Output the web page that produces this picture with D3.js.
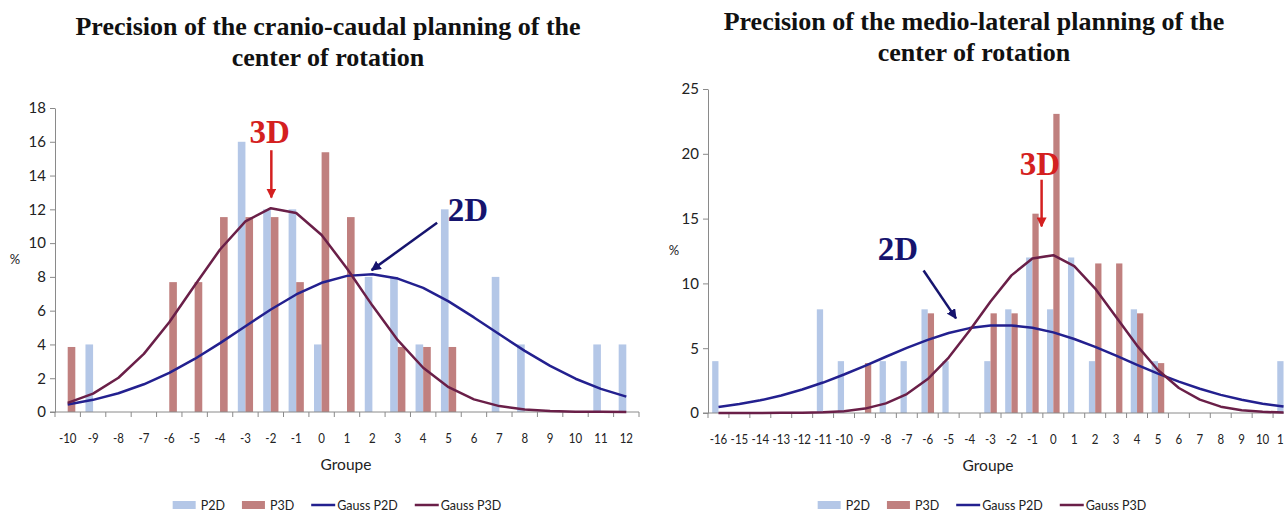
<!DOCTYPE html>
<html>
<head>
<meta charset="utf-8">
<script src="https://cdn.jsdelivr.net/npm/d3@7/dist/d3.min.js"></script>
<style>
  body { margin: 0; background: #fff; }
  svg { display: block; }
  .tick text { font-family: Lato, "Open Sans", sans-serif; fill: #222; }
</style>
</head>
<body>
<script>
// ---- data ----
var leftGroups = [-10, -9, -8, -7, -6, -5, -4, -3, -2, -1, 0, 1, 2, 3, 4, 5, 6, 7, 8, 9, 10, 11, 12];
var leftP2D = [0, 4, 0, 0, 0, 0, 0, 16, 12, 12, 4, 0, 8, 8, 4, 12, 0, 8, 4, 0, 0, 4, 4];
var leftP3D = [3.85, 0, 0, 0, 7.69, 7.69, 11.54, 11.54, 11.54, 7.69, 15.38, 11.54, 0, 3.85, 3.85, 3.85, 0, 0, 0, 0, 0, 0, 0];
var leftGaussP2D = [0.45, 0.72, 1.11, 1.64, 2.32, 3.14, 4.08, 5.08, 6.07, 6.96, 7.65, 8.06, 8.15, 7.90, 7.35, 6.55, 5.60, 4.60, 3.62, 2.73, 1.97, 1.37, 0.91];
var leftGaussP3D = [0.54, 1.09, 2.03, 3.44, 5.31, 7.49, 9.62, 11.29, 12.07, 11.78, 10.48, 8.50, 6.30, 4.25, 2.62, 1.47, 0.75, 0.35, 0.15, 0.06, 0.02, 0.01, 0.00];
var leftYTicks = [0, 2, 4, 6, 8, 10, 12, 14, 16, 18];

var rightGroups = [-16, -15, -14, -13, -12, -11, -10, -9, -8, -7, -6, -5, -4, -3, -2, -1, 0, 1, 2, 3, 4, 5, 6, 7, 8, 9, 10, 11];
var rightP2D = [4, 0, 0, 0, 0, 8, 4, 0, 4, 4, 8, 4, 0, 4, 8, 12, 8, 12, 4, 0, 8, 4, 0, 0, 0, 0, 0, 4];
var rightP3D = [0, 0, 0, 0, 0, 0, 0, 3.85, 0, 0, 7.69, 0, 0, 7.69, 7.69, 15.38, 23.08, 0, 11.54, 11.54, 7.69, 3.85, 0, 0, 0, 0, 0, 0];
var rightGaussP2D = [0.47, 0.69, 0.98, 1.35, 1.81, 2.35, 2.97, 3.64, 4.34, 5.02, 5.64, 6.17, 6.55, 6.75, 6.76, 6.58, 6.22, 5.71, 5.10, 4.42, 3.72, 3.04, 2.42, 1.87, 1.40, 1.02, 0.72, 0.50];
var rightGaussP3D = [0.00, 0.00, 0.00, 0.01, 0.02, 0.06, 0.14, 0.34, 0.74, 1.46, 2.62, 4.28, 6.36, 8.61, 10.62, 11.92, 12.18, 11.33, 9.60, 7.40, 5.20, 3.32, 1.93, 1.03, 0.49, 0.22, 0.09, 0.03];
var rightYTicks = [0, 5, 10, 15, 20, 25];

var legendNames = ["P2D", "P3D", "Gauss P2D", "Gauss P3D"];

var colors = {
  "P2D": "#b4c7e7",
  "P3D": "#c0807f",
  "Gauss P2D": "#23208f",
  "Gauss P3D": "#6a1f48"
};
var axisColor = "#8a8a8a";

var svg = d3.select("body").append("svg")
  .attr("width", 1284)
  .attr("height", 515);

var defs = svg.append("defs");
[["arrowRed", "#d42020"], ["arrowBlue", "#16146e"]].forEach(function(m) {
  defs.append("marker")
    .attr("id", m[0])
    .attr("viewBox", "0 0 10 10")
    .attr("refX", 9).attr("refY", 5)
    .attr("markerWidth", 4).attr("markerHeight", 4)
    .attr("markerUnits", "strokeWidth")
    .attr("orient", "auto")
    .append("path")
    .attr("d", "M0,0 L10,5 L0,10 z")
    .attr("fill", m[1]);
});

function drawChart(cfg) {
  var g = svg.append("g");

  var x = d3.scaleBand().domain(cfg.groups).range([cfg.left, cfg.right]).padding(0);
  var bw = x.bandwidth();
  var xs = d3.scaleBand().domain(["P2D", "P3D"]).range([bw * 0.2, bw * 0.8]);
  // continuous version of the same axis, for the annotations
  var xl = d3.scaleLinear()
    .domain([cfg.groups[0] - 0.5, cfg.groups[cfg.groups.length - 1] + 0.5])
    .range([cfg.left, cfg.right]);
  var y = d3.scaleLinear().domain([0, cfg.yMax]).range([cfg.bottom, cfg.top]);

  // title
  var title = g.append("text")
    .attr("x", cfg.titleX)
    .attr("y", cfg.titleY)
    .attr("text-anchor", "middle")
    .style("font-family", "'Liberation Serif', 'Times New Roman', serif")
    .style("font-weight", "bold")
    .style("font-size", "26px")
    .style("fill", "#111");
  cfg.title.forEach(function(line, i) {
    title.append("tspan")
      .attr("x", cfg.titleX)
      .attr("dy", i == 0 ? 0 : 31)
      .text(line);
  });

  // y axis
  var yAxis = g.append("g")
    .attr("transform", "translate(" + cfg.left + ",0)")
    .call(d3.axisLeft(y).tickValues(cfg.yTicks).tickSize(5).tickSizeOuter(0).tickPadding(4));
  yAxis.selectAll("path, line").attr("stroke", axisColor);
  yAxis.selectAll("text").style("font-size", "15px");

  g.append("text")
    .attr("x", cfg.pctX)
    .attr("y", (cfg.top + cfg.bottom) / 2 + 4)
    .attr("text-anchor", "middle")
    .style("font-family", "Lato, sans-serif")
    .style("font-size", "13px")
    .style("fill", "#222")
    .text("%");

  // bars
  var series = [
    { key: "P2D", values: cfg.p2d },
    { key: "P3D", values: cfg.p3d }
  ];
  series.forEach(function(s) {
    g.append("g").selectAll("rect")
      .data(s.values.map(function(v, i) { return { g: cfg.groups[i], v: v }; })
        .filter(function(d) { return d.v > 0; }))
      .enter().append("rect")
      .attr("x", function(d) { return x(d.g) + xs(s.key); })
      .attr("width", xs.bandwidth())
      .attr("y", function(d) { return y(d.v); })
      .attr("height", function(d) { return y(0) - y(d.v); })
      .attr("fill", colors[s.key]);
  });

  // x axis: line, ticks at category edges, labels in the middle
  g.append("line")
    .attr("x1", cfg.left - 5).attr("x2", cfg.right)
    .attr("y1", cfg.bottom).attr("y2", cfg.bottom)
    .attr("stroke", axisColor);
  g.append("g").selectAll("line")
    .data(cfg.groups.concat(["end"]))
    .enter().append("line")
    .attr("x1", function(d) { return d == "end" ? cfg.right : x(d); })
    .attr("x2", function(d) { return d == "end" ? cfg.right : x(d); })
    .attr("y1", cfg.bottom).attr("y2", cfg.bottom + 5)
    .attr("stroke", axisColor);
  var xAxis = g.append("g")
    .attr("transform", "translate(0," + cfg.bottom + ")")
    .call(d3.axisBottom(x).tickSize(0).tickPadding(21));
  xAxis.select(".domain").remove();
  // narrower glyphs, closer to the original Calibri labels
  xAxis.selectAll("text")
    .style("font-size", "13.5px")
    .attr("transform", "scale(0.85,1)");

  g.append("text")
    .attr("x", cfg.groupeX)
    .attr("y", cfg.bottom + 58)
    .attr("text-anchor", "middle")
    .style("font-family", "Lato, sans-serif")
    .style("font-size", "15.5px")
    .style("fill", "#222")
    .text("Groupe");

  // gauss curves
  var line = d3.line()
    .x(function(d) { return x(d.g) + bw / 2; })
    .y(function(d) { return y(d.v); });
  [["Gauss P2D", cfg.g2d], ["Gauss P3D", cfg.g3d]].forEach(function(s) {
    g.append("path")
      .datum(s[1].map(function(v, i) { return { g: cfg.groups[i], v: v }; }))
      .attr("d", line)
      .attr("fill", "none")
      .attr("stroke", colors[s[0]])
      .attr("stroke-width", 2.5)
      .attr("stroke-linejoin", "round");
  });

  // 2D / 3D annotations
  cfg.notes.forEach(function(n) {
    g.append("text")
      .attr("x", xl(n.tx)).attr("y", y(n.ty))
      .attr("text-anchor", "middle")
      .style("font-family", "'Liberation Serif', 'Times New Roman', serif")
      .style("font-weight", "bold")
      .style("font-size", "33px")
      .style("fill", n.color)
      .text(n.label);
    g.append("line")
      .attr("x1", xl(n.from[0])).attr("y1", y(n.from[1]))
      .attr("x2", xl(n.to[0])).attr("y2", y(n.to[1]))
      .attr("stroke", n.color)
      .attr("stroke-width", 2.5)
      .attr("marker-end", "url(#" + n.marker + ")");
  });

  // legend
  var leg = g.append("g");
  var cx = 0;
  legendNames.forEach(function(name) {
    var item = leg.append("g").attr("transform", "translate(" + cx + ",0)");
    if (name.indexOf("Gauss") == 0) {
      item.append("line")
        .attr("x1", 0).attr("x2", 24).attr("y1", 0).attr("y2", 0)
        .attr("stroke", colors[name]).attr("stroke-width", 2.5);
    } else {
      item.append("rect")
        .attr("x", 0).attr("y", -4).attr("width", 23).attr("height", 8)
        .attr("fill", colors[name]);
    }
    var t = item.append("text")
      .attr("x", name.indexOf("Gauss") == 0 ? 26 : 28)
      .attr("y", 4.5)
      .style("font-family", "Lato, sans-serif")
      .style("font-size", "12.5px")
      .style("fill", "#222")
      .text(name);
    cx += (name.indexOf("Gauss") == 0 ? 26 : 28) + t.node().getComputedTextLength() + 17;
  });
  var legW = cx - 17;
  leg.attr("transform", "translate(" + (cfg.legendX - legW / 2) + "," + cfg.legendY + ")");
}

drawChart({
  groups: leftGroups, p2d: leftP2D, p3d: leftP3D, g2d: leftGaussP2D, g3d: leftGaussP3D,
  yMax: 18, yTicks: leftYTicks,
  left: 55, right: 639, top: 108, bottom: 412,
  title: ["Precision of the cranio-caudal planning of the", "center of rotation"],
  titleX: 328, titleY: 35,
  pctX: 15, groupeX: 346,
  legendX: 337, legendY: 505,
  notes: [
    { label: "3D", color: "#d42020", marker: "arrowRed", tx: -2.05, ty: 15.9, from: [-1.98, 15.5], to: [-1.98, 12.7] },
    { label: "2D", color: "#16146e", marker: "arrowBlue", tx: 5.76, ty: 11.3, from: [4.55, 11.2], to: [1.97, 8.4] }
  ]
});

drawChart({
  groups: rightGroups, p2d: rightP2D, p3d: rightP3D, g2d: rightGaussP2D, g3d: rightGaussP3D,
  yMax: 25, yTicks: rightYTicks,
  left: 708, right: 1294, top: 89, bottom: 413,
  title: ["Precision of the medio-lateral planning of the", "center of rotation"],
  titleX: 974, titleY: 30,
  pctX: 674, groupeX: 988,
  legendX: 982, legendY: 505,
  notes: [
    { label: "3D", color: "#d42020", marker: "arrowRed", tx: -0.64, ty: 18.35, from: [-0.56, 18.0], to: [-0.56, 14.4] },
    { label: "2D", color: "#16146e", marker: "arrowBlue", tx: -7.42, ty: 11.8, from: [-6.2, 11.0], to: [-4.65, 7.3] }
  ]
});
</script>
</body>
</html>
